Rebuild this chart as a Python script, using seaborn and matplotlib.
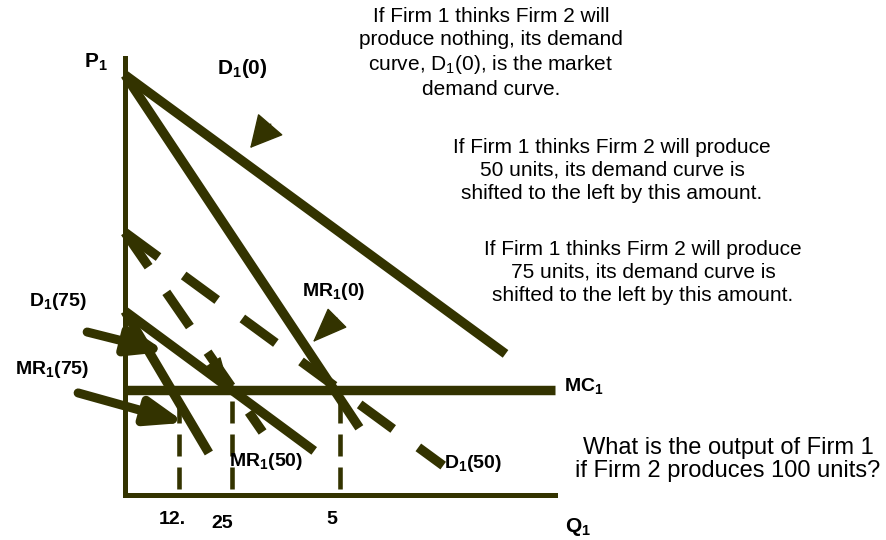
import pandas as pd
import seaborn as sns
import matplotlib.pyplot as plt

# curve end points (Q across, P up)
curve_names = ["D1(0)", "MR1(0)", "D1(50)", "MR1(50)", "D1(75)", "MR1(75)", "MC1"]
curve_q = [[0, 88.5], [0, 54.5], [0, 74], [0, 32], [0, 44], [0, 19.5], [0, 100]]
curve_p = [[100, 33.6], [100, 16], [62.5, 7], [62.5, 15], [43.75, 10.5], [43.75, 10], [25, 25]]
dashed_curves = ["D1(50)", "MR1(50)"]

# Firm 1 outputs marked on the Q axis
output_q = [12.5, 25, 50]
output_labels = ["12.", "25", "5"]
drop_p = [1.5, 23]

axis_q = [[0, 100], [0, 0]]
axis_p = [[0, 0], [0, 104]]

olive = "#333300"
W, H = 887, 540

sns.set_style("white")
plt.rcParams["font.family"] = ["Liberation Sans", "DejaVu Sans"]
plt.rcParams["mathtext.fontset"] = "custom"
plt.rcParams["mathtext.rm"] = "Liberation Sans"
plt.rcParams["mathtext.bf"] = "Liberation Sans:bold"
plt.rcParams["text.color"] = "black"

fig = plt.figure(figsize=(W / 100, H / 100), dpi=100)
ax = fig.add_axes([0, 0, 1, 1])
ax.set_xlim(-125 / 4.3, 762 / 4.3)
ax.set_ylim(-45 / 4.2, 495 / 4.2)
ax.axis("off")

# axes of the diagram
ax_df = pd.DataFrame({
    "line": ["Q", "Q", "P", "P"],
    "Q": axis_q[0] + axis_p[0],
    "P": axis_q[1] + axis_p[1],
})
sns.lineplot(data=ax_df, x="Q", y="P", units="line", estimator=None, sort=False,
             color=olive, lw=3.6, ax=ax, solid_capstyle="projecting")

# demand, marginal revenue and marginal cost curves
rows = []
for name, qs, ps in zip(curve_names, curve_q, curve_p):
    for q, p in zip(qs, ps):
        rows.append({"curve": name, "Q": q, "P": p})
df = pd.DataFrame(rows)
dash_map = {c: ((4.4, 3.3) if c in dashed_curves else "") for c in curve_names}
sns.lineplot(data=df, x="Q", y="P", hue="curve", style="curve",
             palette={c: olive for c in curve_names}, dashes=dash_map,
             estimator=None, sort=False, lw=6.8, legend=False, ax=ax,
             solid_capstyle="butt")

# dashed drop lines
drop_df = pd.DataFrame({
    "Q": [q for q in output_q for _ in drop_p],
    "P": drop_p * len(output_q),
    "out": [str(q) for q in output_q for _ in drop_p],
})
sns.lineplot(data=drop_df, x="Q", y="P", units="out", estimator=None, sort=False,
             color=olive, lw=3.3, dashes=False, ax=ax)
for line in ax.lines[-len(output_q):]:
    line.set_dashes((4.8, 2.4))

# arrows
def head(tail, tip, hl, hw, lw=1.0):
    ax.annotate("", xy=tip, xytext=tail,
                arrowprops=dict(arrowstyle=f"-|>,head_length={hl},head_width={hw}",
                                color=olive, lw=lw, mutation_scale=10,
                                shrinkA=0, shrinkB=0))

head((33.9, 88.3), (29.1, 82.6), 2.1, 1.1)
head((49.3, 42.1), (43.7, 36.4), 2.3, 0.9)
head((20.2, 31.7), (24.2, 25.5), 2.0, 0.65)
head((-8.8, 38.8), (9.5, 34.1), 2.2, 0.8, lw=6.5)
head((-10.9, 24.3), (14.0, 17.2), 2.2, 0.8, lw=6.5)

# texts
def txt(x, y, s, size=14, weight="bold", **kw):
    fig.text(x / W, 1 - y / H, s, fontsize=size, fontweight=weight, color="black",
             ha=kw.pop("ha", "center"), va=kw.pop("va", "center"), **kw)

txt(96, 62, r"P$_\mathbf{1}$", size=15)
txt(242, 68, r"D$_\mathbf{1}$(0)", size=15)
txt(334, 292, r"MR$_\mathbf{1}$(0)")
txt(58, 301, r"D$_\mathbf{1}$(75)")
txt(52, 370, r"MR$_\mathbf{1}$(75)")
txt(584, 387, r"MC$_\mathbf{1}$")
txt(266, 462, r"MR$_\mathbf{1}$(50)")
txt(473, 463, r"D$_\mathbf{1}$(50)")
txt(578, 527, r"Q$_\mathbf{1}$", size=15)
for x, y, lab in zip([172, 222, 332], [520, 523, 520], output_labels):
    txt(x, y, lab)

txt(491, 7, "If Firm 1 thinks Firm 2 will\nproduce nothing, its demand\n"
    r"curve, D$_1$(0), is the market" "\ndemand curve.",
    size=15, weight="normal", va="top", linespacing=1.26)
txt(612, 138, "If Firm 1 thinks Firm 2 will produce\n50 units, its demand curve is\n"
    "shifted to the left by this amount.",
    size=15, weight="normal", va="top", linespacing=1.26)
txt(643, 240, "If Firm 1 thinks Firm 2 will produce\n75 units, its demand curve is\n"
    "shifted to the left by this amount.",
    size=15, weight="normal", va="top", linespacing=1.26)
txt(728, 437, "What is the output of Firm 1\nif Firm 2 produces 100 units?",
    size=17, weight="normal", va="top", linespacing=1.03)

fig.savefig("out.png", dpi=100)
